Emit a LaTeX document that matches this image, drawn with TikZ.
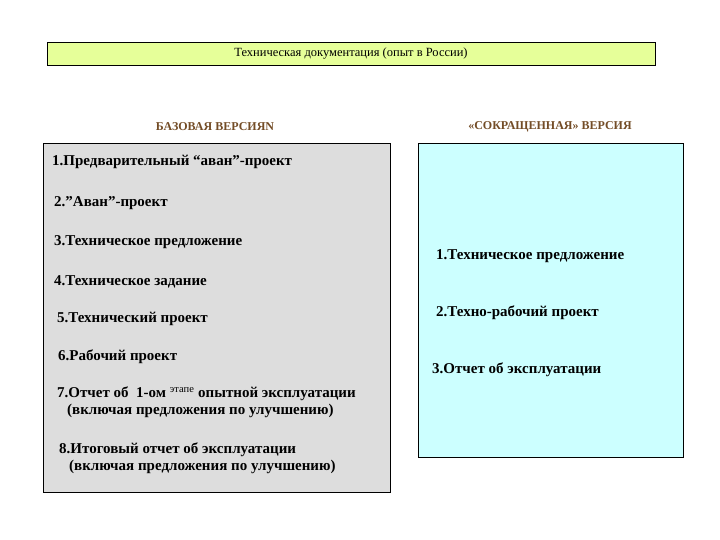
\documentclass[tikz,border=0pt]{standalone}
\usepackage{fontspec}
\setmainfont{Liberation Serif}
\begin{document}
\begin{tikzpicture}[x=1pt,y=-1pt,
 item/.style={anchor=west,font=\fontsize{15}{17}\selectfont\bfseries,align=left,inner sep=0pt},
 head/.style={font=\fontsize{12}{14}\selectfont\bfseries,text=brown!60!black,inner sep=0pt}]
\useasboundingbox (0,0) rectangle (720,540);
\node[draw,fill={rgb,255:red,230;green,255;blue,153},minimum width=608,minimum height=23,inner sep=0pt,font=\fontsize{12.5}{14}\selectfont] (title) at (351,53.5) {Техническая документация (опыт в России)};
\node[head] (hl) at (215,127) {БАЗОВАЯ ВЕРСИЯN};
\node[head] (hr) at (550,127) {«СОКРАЩЕННАЯ» ВЕРСИЯ};
\node[draw,fill={rgb,255:red,221;green,221;blue,221},minimum width=347,minimum height=349,inner sep=0pt] (lb) at (216.5,317.5) {};
\node[draw,fill={rgb,255:red,204;green,255;blue,255},minimum width=265,minimum height=314,inner sep=0pt] (rb) at (550.5,300) {};
\node[item] (l1) at (52,162) {1.Предварительный “аван”-проект};
\node[item] (l2) at (54,203) {2.”Аван”-проект};
\node[item] (l3) at (54,242) {3.Техническое предложение};
\node[item] (l4) at (54,282) {4.Техническое задание};
\node[item] (l5) at (57,319) {5.Технический проект};
\node[item] (l6) at (58,357) {6.Рабочий проект};
\node[item,anchor=north west] (l7) at (57,387) {7.Отчет об \ 1-ом \textsuperscript{\normalfont этапе} опытной эксплуатации\\\hspace{10pt}(включая предложения по улучшению)};
\node[item,anchor=north west] (l8) at (59,443) {8.Итоговый отчет об эксплуатации\\\hspace{10pt}(включая предложения по улучшению)};
\node[item] (r1) at (436,256) {1.Техническое предложение};
\node[item] (r2) at (436,313) {2.Техно-рабочий проект};
\node[item] (r3) at (432,370) {3.Отчет об эксплуатации};
\end{tikzpicture}
\end{document}
